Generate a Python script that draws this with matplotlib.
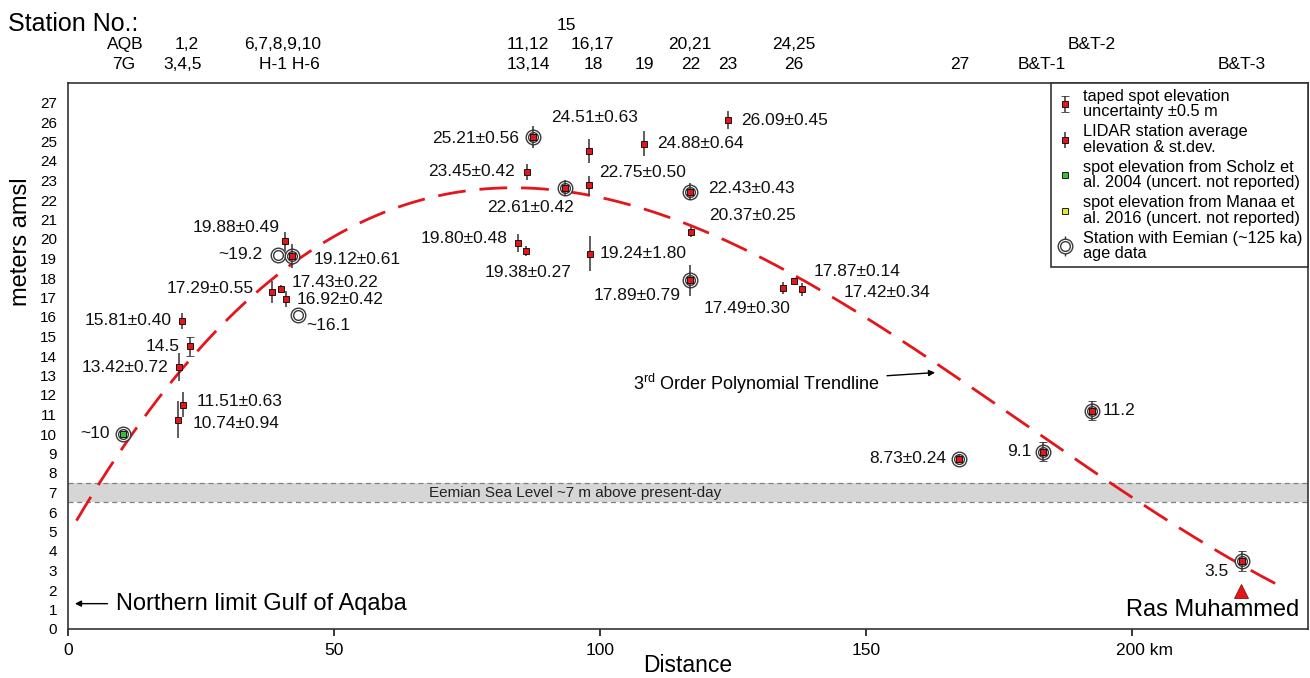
import matplotlib
matplotlib.use('Agg')
import matplotlib.pyplot as plt
import matplotlib.transforms as mtransforms
from matplotlib.lines import Line2D
import numpy as np

plt.rcParams['font.family'] = ['Liberation Sans', 'DejaVu Sans']
plt.rcParams['mathtext.fontset'] = 'custom'
plt.rcParams['mathtext.rm'] = 'Liberation Sans'

# LIDAR station averages (km, m amsl, st.dev. bar)
lidar_x = [21.4, 20.9, 21.6, 20.7, 40.8, 42.2, 38.3, 40.0, 41.0, 87.5, 86.2, 93.4, 97.9,
           97.9, 98.1, 84.5, 86.1, 108.3, 124.1, 117.0, 117.2, 116.9, 134.5, 136.5, 137.9, 167.5]
lidar_y = [15.81, 13.42, 11.51, 10.74, 19.88, 19.12, 17.29, 17.43, 16.92, 25.21, 23.45, 22.61, 24.51,
           22.75, 19.24, 19.80, 19.38, 24.88, 26.09, 22.43, 20.37, 17.89, 17.49, 17.87, 17.42, 8.73]
lidar_err = [0.40, 0.72, 0.63, 0.94, 0.49, 0.61, 0.55, 0.22, 0.42, 0.56, 0.42, 0.42, 0.63,
             0.50, 0.90, 0.48, 0.27, 0.64, 0.45, 0.43, 0.25, 0.79, 0.30, 0.14, 0.34, 0.24]
lidar_lbl = ['15.81±0.40', '13.42±0.72', '11.51±0.63', '10.74±0.94', '19.88±0.49', '19.12±0.61',
             '17.29±0.55', '17.43±0.22', '16.92±0.42', '25.21±0.56', '23.45±0.42', '22.61±0.42',
             '24.51±0.63', '22.75±0.50', '19.24±1.80', '19.80±0.48', '19.38±0.27', '24.88±0.64',
             '26.09±0.45', '22.43±0.43', '20.37±0.25', '17.89±0.79', '17.49±0.30', '17.87±0.14',
             '17.42±0.34', '8.73±0.24']

# taped spot elevations (+-0.5 m)
taped_x = [22.9, 183.3, 192.5, 220.6]
taped_y = [14.5, 9.1, 11.2, 3.5]
taped_lbl = ['14.5', '9.1', '11.2', '3.5']

# literature spot elevations
scholz_x = [10.3]
scholz_y = [10.0]
scholz_lbl = ['~10']
manaa_x = [39.5, 43.3]
manaa_y = [19.2, 16.1]
manaa_lbl = ['~19.2', '~16.1']

# stations with Eemian age data
eem_x = [10.3, 39.5, 42.2, 43.3, 87.5, 93.4, 117.0, 116.9, 167.5, 183.3, 192.5, 220.6]
eem_y = [10.0, 19.2, 19.12, 16.1, 25.21, 22.61, 22.43, 17.89, 8.73, 9.1, 11.2, 3.5]

# points read along the trendline
trend_x = [1.6, 5.1, 21.05, 36.1, 64.8, 83.0, 99.4, 118.2, 143.2, 162.7, 197.7, 227.8]
trend_y = [5.9, 6.9, 13.05, 17.4, 21.85, 22.6, 22.25, 20.7, 17.2, 13.55, 7.05, 2.3]

# station header
st_names = ['AQB', '7G', '1,2', '3,4,5', '6,7,8,9,10', 'H-1 H-6', '15', '11,12', '13,14',
            '16,17', '18', '19', '20,21', '22', '23', '24,25', '26', '27', 'B&T-1', 'B&T-2', 'B&T-3']
st_x = [10.7, 10.5, 22.3, 21.6, 40.3, 41.7, 93.7, 86.5, 86.5, 98.6, 98.7, 108.3, 116.9,
        117.1, 124.1, 136.5, 136.5, 167.7, 183.0, 192.5, 220.7]
st_row = [2, 3, 2, 3, 2, 3, 1, 2, 3, 2, 3, 3, 2, 3, 3, 2, 3, 3, 3, 2, 3]

red = '#e4151b'

fig = plt.figure(figsize=(13.1, 6.78), dpi=100)
ax = fig.add_axes([68/1310, 49/678, 1240/1310, 546/678])
ax.set_xlim(0, 233.1)
ax.set_ylim(0, 28)

# Eemian sea level band
ax.axhspan(6.5, 7.5, color='#d6d6d6', zorder=0, lw=0)
ax.axhline(6.5, color='#808080', ls=(0, (4, 3)), lw=0.9, zorder=1)
ax.axhline(7.5, color='#808080', ls=(0, (4, 3)), lw=0.9, zorder=1)
ax.text(95.3, 7.0, 'Eemian Sea Level ~7 m above present-day', fontsize=11,
        ha='center', va='center', color='#222222')

# trendline
coef = np.polyfit(trend_x, trend_y, 3)
xx = np.linspace(trend_x[0], trend_x[-1], 300)
ax.plot(xx, np.polyval(coef, xx), color=red, lw=2, dashes=(10, 5), zorder=2)

# Eemian rings
ax.plot(eem_x, eem_y, 'o', ms=10.5, mfc='white', mec='#3a3a3a', mew=1.0, zorder=3)
ax.plot(eem_x, eem_y, 'o', ms=7, mfc='none', mec='#3a3a3a', mew=1.0, zorder=3)

h_lidar = ax.errorbar(lidar_x, lidar_y, yerr=lidar_err, fmt='s', ms=4.5, mfc=red, mec='k',
                      mew=0.6, ecolor='#333333', elinewidth=1.1, capsize=0, zorder=4)
h_taped = ax.errorbar(taped_x, taped_y, yerr=0.5, fmt='s', ms=4.5, mfc=red, mec='k',
                      mew=0.6, ecolor='#333333', elinewidth=1.1, capsize=3, capthick=1, zorder=4)
ax.plot(scholz_x, scholz_y, 's', ms=4.5, mfc='#3dbb3d', mec='k', mew=0.6, zorder=4)

# value labels: offsets in pixels
lidar_off = [(-10, 0, 'right'), (-11, 0, 'right'), (14, 3, 'left'), (15, -4, 'left'),
             (-5, 14, 'right'), (21, -3, 'left'), (-18, 3, 'right'), (11, 7, 'left'),
             (11, 0, 'left'), (-14, -1, 'right'), (-12, 0, 'right'), (9, -19, 'right'),
             (6, 34, 'center'), (10, 13, 'left'), (10, 0, 'left'), (-10, 4, 'right'),
             (2, -21, 'center'), (13, 0, 'left'), (13, 0, 'left'), (18, 3, 'left'),
             (18, 16, 'left'), (-9, -15, 'right'), (7, -21, 'right'), (19, 9, 'left'),
             (42, -3, 'left'), (-13, 0, 'right')]
taped_off = [(-10, 0, 'right'), (-12, 0, 'right'), (11, 0, 'left'), (-13, -11, 'right')]
scholz_off = [(-13, 0, 'right')]
manaa_off = [(-16, 0, 'right'), (8, -10, 'left')]

groups = [(lidar_x, lidar_y, lidar_lbl, lidar_off), (taped_x, taped_y, taped_lbl, taped_off),
          (scholz_x, scholz_y, scholz_lbl, scholz_off), (manaa_x, manaa_y, manaa_lbl, manaa_off)]
for gx, gy, gl, go in groups:
    for i in range(len(gx)):
        dx, dy, ha = go[i]
        ax.annotate(gl[i], (gx[i], gy[i]), xytext=(dx, dy), textcoords='offset pixels',
                    ha=ha, va='center', fontsize=12.5, color='#111111')

# Ras Muhammed
ax.plot([220.5], [1.95], '^', ms=10, color=red, mec='#8a1010', mew=0.6, zorder=4)
ax.text(215.2, 0.97, 'Ras Muhammed', fontsize=17, ha='center', va='center')

ax.annotate('Northern limit Gulf of Aqaba', xy=(1.3, 1.3), xytext=(9.0, 1.3),
            fontsize=17, ha='left', va='center',
            arrowprops=dict(arrowstyle='-|>', color='k', lw=1, mutation_scale=9, shrinkA=4, shrinkB=0))
ax.annotate('3$^{\\rm rd}$ Order Polynomial Trendline', xy=(163.0, 13.15), xytext=(106.2, 12.55),
            fontsize=13, ha='left', va='center',
            arrowprops=dict(arrowstyle='-|>', color='k', lw=1, mutation_scale=9, shrinkA=3, shrinkB=0))

# station numbers above the axes
row_y = {1: 1.106, 2: 1.0696, 3: 1.033}
for i in range(len(st_names)):
    ax.text(st_x[i], row_y[st_row[i]], st_names[i], transform=ax.get_xaxis_transform(),
            ha='center', va='center', fontsize=12.5, clip_on=False)
fig.text(8/1310, 1 - 24/678, 'Station No.:', fontsize=18, ha='left', va='center')

# axes styling
for s in ax.spines.values():
    s.set_color('#333333')
    s.set_linewidth(1.2)
ax.set_yticks(range(28))
ax.tick_params(axis='y', which='major', length=0, pad=8, labelsize=11)
ax.set_yticks(range(0, 30, 5), minor=True)
ax.tick_params(axis='y', which='minor', length=5, width=1.1, labelleft=False)
ax.set_xticks([0, 50, 100, 150, 200])
ax.set_xticklabels(['0', '50', '100', '150', '200 km'])
ax.tick_params(axis='x', length=5, width=1.1, labelsize=12.5, pad=5)
lab = ax.get_xticklabels()[-1]
lab.set_ha('left')
lab.set_transform(lab.get_transform() + mtransforms.ScaledTranslation(-16/100, 0, fig.dpi_scale_trans))

ax.set_xlabel('Distance', fontsize=16.5, labelpad=-3)
ax.set_ylabel('meters amsl', fontsize=17)
ax.yaxis.set_label_coords(-0.029, 0.71)

# legend
h_scholz = Line2D([], [], marker='s', ls='none', ms=4.5, mfc='#3dbb3d', mec='k', mew=0.6)
h_manaa = Line2D([], [], marker='s', ls='none', ms=4.5, mfc='#e6e632', mec='k', mew=0.6)
h_eem = (Line2D([], [], marker='|', ls='none', ms=15, color='#333333', mew=1),
         Line2D([], [], marker='o', ls='none', ms=10.5, mfc='white', mec='#3a3a3a', mew=1.0),
         Line2D([], [], marker='o', ls='none', ms=7, mfc='none', mec='#3a3a3a', mew=1.0))
leg = ax.legend([h_taped, h_lidar, h_scholz, h_manaa, h_eem],
                ['taped spot elevation\nuncertainty ±0.5 m',
                 'LIDAR station average\nelevation & st.dev.',
                 'spot elevation from Scholz et\nal. 2004 (uncert. not reported)',
                 'spot elevation from Manaa et\nal. 2016 (uncert. not reported)',
                 'Station with Eemian (~125 ka)\nage data'],
                loc='upper right', borderaxespad=0, fontsize=11.8, fancybox=False,
                edgecolor='#333333', framealpha=1, handlelength=1.0, handletextpad=0.6,
                labelspacing=0.3, borderpad=0.35)
leg.get_frame().set_linewidth(1.2)
for t in leg.get_texts():
    t.set_linespacing(1.05)

fig.savefig('out.png', dpi=100)
